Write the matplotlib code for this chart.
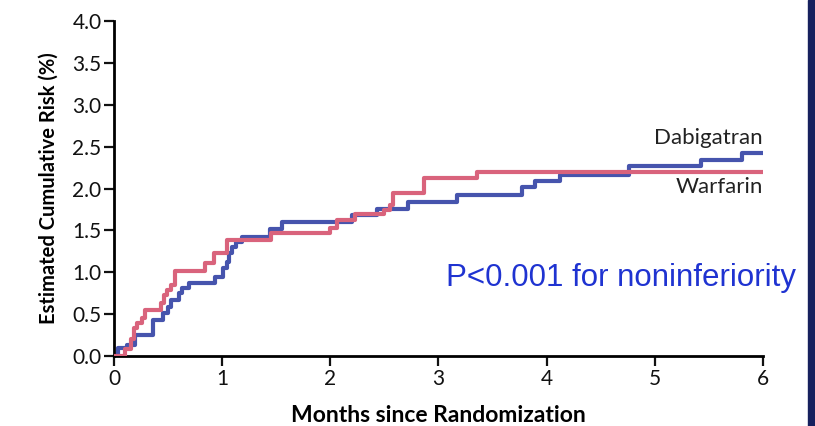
import matplotlib
matplotlib.use('Agg')
import matplotlib.pyplot as plt
from matplotlib.patches import Rectangle

# ===== 数据（从图中读取的阶梯曲线） =====
dabi_months = [0, 0.04, 0.12, 0.19, 0.36, 0.45, 0.50, 0.53, 0.60, 0.63, 0.69, 0.93,
               1.01, 1.04, 1.06, 1.09, 1.13, 1.18, 1.44, 1.55, 2.20, 2.43, 2.72,
               3.17, 3.77, 3.89, 4.12, 4.76, 5.43, 5.81, 6.0]
dabi_risk = [0, 0.10, 0.13, 0.25, 0.43, 0.51, 0.59, 0.67, 0.75, 0.81, 0.87, 0.94,
             1.05, 1.12, 1.23, 1.30, 1.36, 1.42, 1.52, 1.60, 1.68, 1.76, 1.84,
             1.92, 2.02, 2.09, 2.16, 2.27, 2.34, 2.42, 2.42]

warf_months = [0, 0.10, 0.16, 0.18, 0.21, 0.26, 0.29, 0.43, 0.46, 0.49, 0.53, 0.56,
               0.84, 0.92, 1.04, 1.45, 2.00, 2.06, 2.23, 2.50, 2.55, 2.58, 2.87,
               3.36, 6.0]
warf_risk = [0, 0.09, 0.21, 0.33, 0.39, 0.45, 0.55, 0.63, 0.73, 0.79, 0.85, 1.02,
             1.11, 1.23, 1.39, 1.47, 1.53, 1.62, 1.70, 1.74, 1.80, 1.95, 2.12,
             2.20, 2.20]

x_ticks = [0, 1, 2, 3, 4, 5, 6]
y_ticks = [0.0, 0.5, 1.0, 1.5, 2.0, 2.5, 3.0, 3.5, 4.0]

BLUE = '#4654ad'
PINK = '#d9637c'

plt.rcParams['font.family'] = ['Lato', 'DejaVu Sans']

fig = plt.figure(figsize=(8.15, 4.26), dpi=100)
ax = fig.add_axes([0.14, 0.164, 0.796, 0.787])

ax.step(warf_months, warf_risk, where='post', color=PINK, linewidth=3.0, zorder=3)
ax.step(dabi_months, dabi_risk, where='post', color=BLUE, linewidth=3.0, zorder=2)

ax.set_xlim(0, 6)
ax.set_ylim(0, 4)
ax.set_xticks(x_ticks)
ax.set_xticklabels([str(t) for t in x_ticks])
ax.set_yticks(y_ticks)
ax.set_yticklabels([f'{t:.1f}' for t in y_ticks])

for side in ['top', 'right']:
    ax.spines[side].set_visible(False)
for side in ['left', 'bottom']:
    ax.spines[side].set_linewidth(2.0)
    ax.spines[side].set_color('black')
ax.tick_params(direction='out', length=7, width=1.6, labelsize=15, colors='#111111',
               pad=2)

ax.set_xlabel('Months since Randomization', fontsize=16.5, fontweight='bold', labelpad=12)
ax.set_ylabel('Estimated Cumulative Risk (%)', fontsize=14.5, fontweight='bold', labelpad=10)

ax.text(6.0, 2.6, 'Dabigatran', ha='right', va='center', fontsize=16, color='#222222')
ax.text(6.0, 2.02, 'Warfarin', ha='right', va='center', fontsize=16, color='#222222')
ax.text(3.07, 0.93, 'P<0.001 for noninferiority', ha='left', va='center',
        fontsize=22.5, color='#1f33d1', family=['Liberation Sans', 'DejaVu Sans'],
        clip_on=False)

# 右侧深蓝色边条
fig.patches.append(Rectangle((0.991, 0), 0.009, 1, transform=fig.transFigure,
                             color='#16205e', zorder=0))

fig.savefig('out.png', dpi=100)
